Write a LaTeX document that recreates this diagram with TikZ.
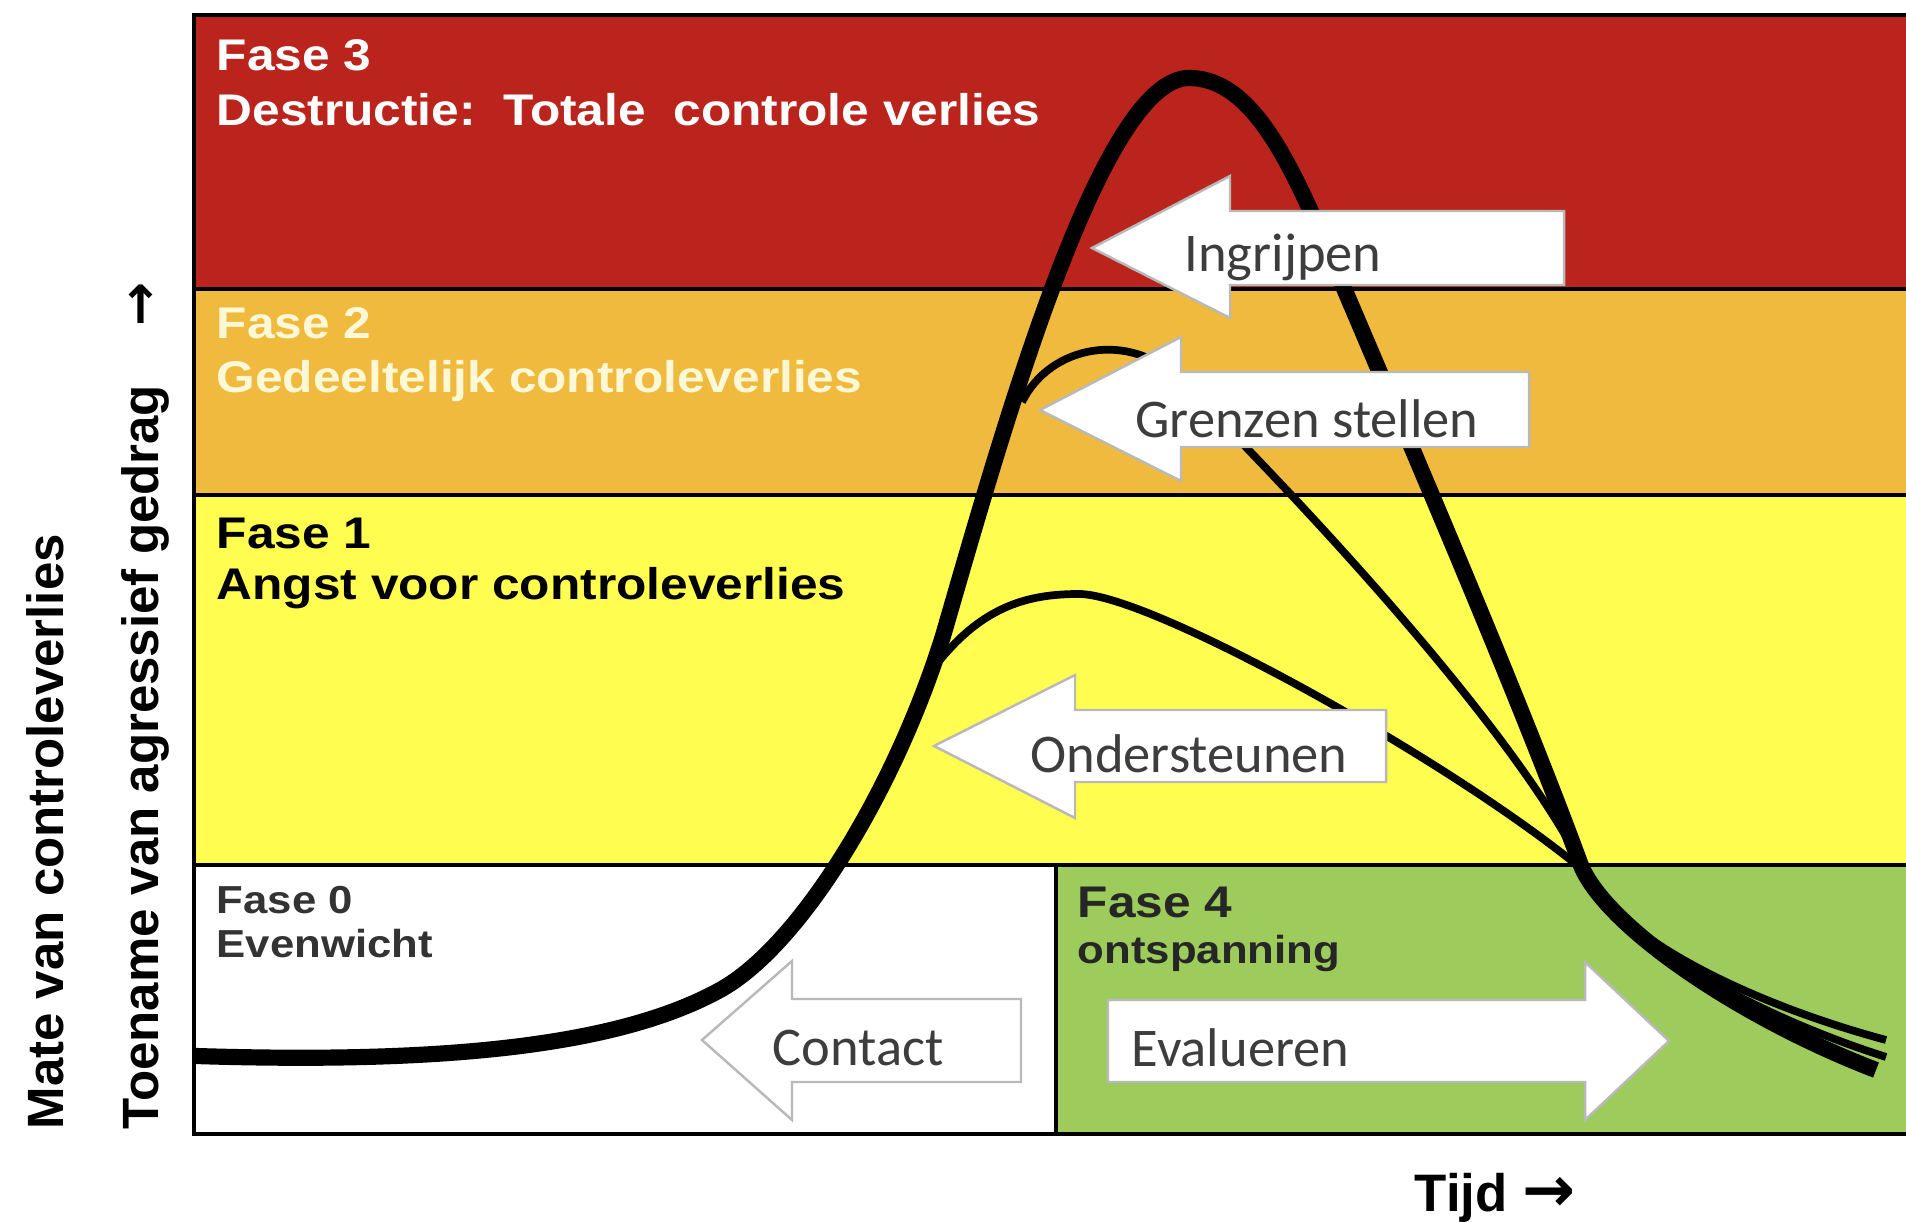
\documentclass[tikz,border=0pt]{standalone}
\usepackage{fontspec}
\setmainfont{Liberation Sans}
\newfontfamily\fasefont[FakeStretch=1.12]{Liberation Sans}
\newfontfamily\pijlfont{Carlito}
\newfontfamily\symbolfont{DejaVu Sans}

\definecolor{faserood}{RGB}{186,36,29}
\definecolor{faseoranje}{RGB}{240,186,62}
\definecolor{fasegeel}{RGB}{255,253,80}
\definecolor{fasegroen}{RGB}{157,204,92}
\definecolor{fasecreme}{RGB}{255,248,215}

\tikzset{
    rand/.style={line width=1.1pt, draw=black},
    lijndik/.style={line width=4.6pt, line join=round},
    lijndun/.style={line width=2.2pt, line join=round},
    blokpijl/.style={fill=white, draw=gray!55, line width=0.7pt},
    pijltekst/.style={font=\pijlfont\fontsize{15.5}{18}\selectfont, text=black!76, inner sep=0pt},
    fasetekst/.style={font=\fasefont\bfseries\fontsize{12.6}{15}\selectfont, anchor=base west, inner sep=0pt},
    fasklein/.style={font=\fasefont\bfseries\fontsize{11.1}{13}\selectfont, anchor=base west, inner sep=0pt},
    aslabel/.style={font=\bfseries\fontsize{14.5}{17}\selectfont, rotate=90, anchor=base west, inner sep=0pt}
}

\begin{document}
\begin{tikzpicture}[x=0.01cm, y=-0.01cm]
    \useasboundingbox (0,0) rectangle (1906,1222);

    % fasen
    \foreach \boven/\onder/\kleur in {15/289/faserood, 289/495/faseoranje, 495/865/fasegeel}{
        \fill[\kleur] (194,\boven) rectangle (1906,\onder);
    }
    \fill[white] (194,865) rectangle (1056,1134);
    \fill[fasegroen] (1056,865) rectangle (1906,1134);

    \foreach \y in {289,495,865}{
        \draw[rand] (194,\y) -- (1906,\y);
    }
    \draw[rand] (1906,15) -- (194,15) -- (194,1134) -- (1906,1134);
    \draw[rand] (1056,865) -- (1056,1134);

    % verloop
    \draw[lijndik] (196,1056) .. controls (450,1064) and (620,1045) .. (720,990)
        .. controls (800,946) and (895,790) .. (943,636)
        .. controls (1000,440) and (1100,78) .. (1189,78)
        .. controls (1260,78) and (1300,185) .. (1349,300)
        .. controls (1420,467) and (1520,700) .. (1580,863)
        .. controls (1603,925) and (1740,1018) .. (1876,1070);
    \draw[lijndun] (1022,402) .. controls (1050,345) and (1130,330) .. (1180,380)
        .. controls (1330,530) and (1520,740) .. (1583,868)
        .. controls (1612,935) and (1745,1002) .. (1886,1040);
    \draw[lijndun] (940,660) .. controls (985,605) and (1030,594) .. (1079,594)
        .. controls (1150,594) and (1450,760) .. (1583,870)
        .. controls (1614,935) and (1745,1012) .. (1886,1057);

    % interventies
    \draw[blokpijl] (1092,248) -- (1230,176) -- (1230,211) -- (1564,211) -- (1564,285) -- (1230,285) -- (1230,318) -- cycle;
    \draw[blokpijl] (1040,410) -- (1181,337) -- (1181,372) -- (1529,372) -- (1529,447) -- (1181,447) -- (1181,481) -- cycle;
    \draw[blokpijl] (934,746) -- (1075,675) -- (1075,710) -- (1386,710) -- (1386,782) -- (1075,782) -- (1075,818) -- cycle;
    \draw[blokpijl] (702,1040) -- (792,961) -- (792,999) -- (1021,999) -- (1021,1082) -- (792,1082) -- (792,1120) -- cycle;
    \draw[blokpijl] (1669,1041) -- (1585,962) -- (1585,1000) -- (1108,1000) -- (1108,1082) -- (1585,1082) -- (1585,1120) -- cycle;

    \node[pijltekst] (ingrijpen) at (1283,257) {Ingrijpen};
    \node[pijltekst] (grenzen) at (1307,419) {Grenzen stellen};
    \node[pijltekst] (ondersteunen) at (1189,754) {Ondersteunen};
    \node[pijltekst] (contact) at (858,1048) {Contact};
    \node[pijltekst, anchor=west] (evalueren) at (1131,1048) {Evalueren};

    % teksten fasen
    \node[fasetekst, text=white] (fase3) at (216,71) {Fase 3};
    \node[fasetekst, text=white] (fase3uitleg) at (216,126) {Destructie:\ \ Totale\ \ controle verlies};
    \node[fasetekst, text=fasecreme] (fase2) at (216,339) {Fase 2};
    \node[fasetekst, text=fasecreme] (fase2uitleg) at (216,393) {Gedeeltelijk controleverlies};
    \node[fasetekst] (fase1) at (216,549) {Fase 1};
    \node[fasetekst] (fase1uitleg) at (216,600) {Angst voor controleverlies};
    \node[fasklein, text=black!80] (fase0) at (216,913) {Fase 0};
    \node[fasklein, text=black!80] (fase0uitleg) at (216,957) {Evenwicht};
    \node[fasetekst, text=black!85] (fase4) at (1077,917) {Fase 4};
    \node[fasklein, text=black!85] (fase4uitleg) at (1077,963) {ontspanning};

    % assen
    \node[aslabel] (mate) at (64,1130) {Mate van controleverlies};
    \node[aslabel] (toename) at (158,1130) {Toename van agressief gedrag};
    \node[font=\symbolfont\bfseries\fontsize{15}{17}\selectfont, rotate=90, inner sep=0pt] (toenamepijl) at (143,304) {→};
    \node[font=\bfseries\fontsize{15}{18}\selectfont, anchor=base west, inner sep=0pt] (tijd) at (1414,1211) {Tijd {\symbolfont\fontsize{18}{18}\selectfont →}};
\end{tikzpicture}
\end{document}
